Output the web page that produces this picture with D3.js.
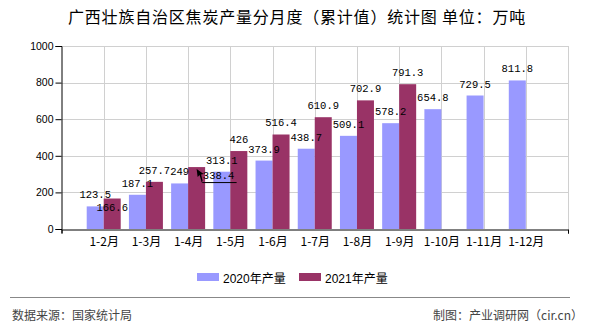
<!DOCTYPE html>
<html>
<head>
<meta charset="utf-8">
<script src="https://cdn.jsdelivr.net/npm/d3@7"></script>
<style>
  html, body { margin: 0; padding: 0; background: #fff; }
  svg { display: block; }
</style>
</head>
<body>
<svg id="chart" width="590" height="330"></svg>
<script>
// ---- data ----
const title = "广西壮族自治区焦炭产量分月度（累计值）统计图 单位：万吨";
const categories = ["1-2月","1-3月","1-4月","1-5月","1-6月","1-7月","1-8月","1-9月","1-10月","1-11月","1-12月"];
const seriesNames = ["2020年产量", "2021年产量"];
const values2020 = [123.5, 187.1, 249, 313.1, 373.9, 438.7, 509.1, 578.2, 654.8, 729.5, 811.8];
const values2021 = [166.6, 257.7, 338.4, 426, 516.4, 610.9, 702.9, 791.3];
const yTicks = [0, 200, 400, 600, 800, 1000];
const sourceText = "数据来源：国家统计局";
const creditText = "制图：产业调研网（cir.cn）";

// ---- style ----
const colors = ["#9999FF", "#993366"];
const plot = { left: 61.5, right: 568, top: 46, bottom: 229 };
const barW = 17;
// label displacements (label-collision layout of the original), keyed "series-index"
const labelShift = { "1-0": { dx: 0, dy: 20.5 }, "1-2": { dx: 22, dy: 20, leader: true } };

const svg = d3.select("#chart");

const x = d3.scalePoint()
  .domain(["_s", ...categories, "_e"])
  .range([plot.left, plot.right]);
const y = d3.scaleLinear().domain([0, 1000]).range([plot.bottom, plot.top]);

// title
svg.append("text")
  .attr("x", 297).attr("y", 23)
  .attr("text-anchor", "middle")
  .attr("font-family", "'Noto Sans CJK SC', sans-serif")
  .attr("font-size", 16).attr("letter-spacing", 0.8)
  .attr("fill", "#000")
  .text(title);

// gridlines
const grid = svg.append("g").attr("stroke", "#d0d0d0").attr("stroke-width", 1);
yTicks.filter(d => d > 0).forEach(t => {
  grid.append("line").attr("x1", plot.left).attr("x2", plot.right)
    .attr("y1", Math.round(y(t)) + 0.5).attr("y2", Math.round(y(t)) + 0.5);
});
[...categories, "_e"].forEach(c => {
  const xx = Math.round(x(c)) + 0.5;
  grid.append("line").attr("x1", xx).attr("x2", xx)
    .attr("y1", plot.top).attr("y2", plot.bottom);
});

// bars
const series = [values2020, values2021];
series.forEach((vals, si) => {
  svg.append("g").selectAll("rect").data(vals).enter().append("rect")
    .attr("x", (d, i) => si === 0 ? x(categories[i]) - barW : x(categories[i]))
    .attr("y", d => y(d))
    .attr("width", barW)
    .attr("height", d => y(0) - y(d))
    .attr("fill", colors[si]);
});

// axes
const yAxis = d3.axisLeft(y).tickValues(yTicks).tickSize(6).tickPadding(2).tickFormat(d3.format("d"));
const gy = svg.append("g").attr("transform", `translate(${plot.left},0)`).call(yAxis);
gy.select(".domain").attr("stroke", "#000");
gy.selectAll(".tick line").attr("stroke", "#000");
gy.selectAll(".tick text").attr("font-family", "'Liberation Sans', Arial, sans-serif")
  .attr("font-size", 10.5).attr("fill", "#000");

const xAxis = d3.axisBottom(x).tickValues(["_s", "_e"]).tickSize(4).tickFormat("");
const gx = svg.append("g").attr("transform", `translate(0,${plot.bottom + 0.5})`).call(xAxis);
gx.select(".domain").attr("stroke", "#000");
gx.selectAll(".tick line").attr("stroke", "#000");

// x tick labels
svg.append("g").selectAll("text").data(categories).enter().append("text")
  .attr("x", d => x(d) + 0.5)
  .attr("y", 246)
  .attr("text-anchor", "middle")
  .attr("font-family", "'Noto Sans CJK SC', sans-serif")
  .attr("font-size", 12)
  .attr("fill", "#000")
  .text(d => d);

// data labels
const labelFont = "'Liberation Mono', 'DejaVu Sans Mono', monospace";
series.forEach((vals, si) => {
  vals.forEach((v, i) => {
    const cx = si === 0 ? x(categories[i]) - barW / 2 : x(categories[i]) + barW / 2;
    const sh = labelShift[si + "-" + i] || { dx: 0, dy: 0 };
    const lx = cx + sh.dx, ly = y(v) - 12 + sh.dy;
    svg.append("text")
      .attr("x", lx).attr("y", ly + 4)
      .attr("text-anchor", "middle")
      .attr("font-family", labelFont)
      .attr("font-size", 10.5)
      .attr("fill", "#000")
      .text(String(v));
    if (sh.leader) {
      const tx = cx, ty = y(v) + 2;
      svg.append("path")
        .attr("d", `M${tx + 5},${ty + 13} L${lx - 16},${ly + 7.5} L${lx + 18},${ly + 7.5}`)
        .attr("fill", "none").attr("stroke", "#000").attr("stroke-width", 1);
      svg.append("path")
        .attr("d", `M${tx},${ty} L${tx + 1},${ty + 8} L${tx + 3},${ty + 6} L${tx + 5},${ty + 13} L${tx + 6},${ty + 12} L${tx + 4.5},${ty + 5.5} L${tx + 7},${ty + 5} Z`)
        .attr("fill", "#000");
    }
  });
});

// legend
const legend = svg.append("g");
const legendX = [197, 299];
seriesNames.forEach((n, i) => {
  legend.append("rect").attr("x", legendX[i]).attr("y", 273).attr("width", 22).attr("height", 8)
    .attr("fill", colors[i]);
  legend.append("text").attr("x", legendX[i] + 26).attr("y", 282.5)
    .attr("font-family", "'Liberation Sans', 'Noto Sans CJK SC', sans-serif")
    .attr("font-size", 12).attr("fill", "#000").text(n);
});

// separator
svg.append("line").attr("x1", 10).attr("x2", 570).attr("y1", 297.5).attr("y2", 297.5)
  .attr("stroke", "#888").attr("stroke-width", 1);

// footer
svg.append("text").attr("x", 12).attr("y", 320)
  .attr("font-family", "'Noto Sans CJK SC', sans-serif").attr("font-size", 12)
  .attr("fill", "#444").text(sourceText);
svg.append("text").attr("x", 583).attr("y", 320).attr("text-anchor", "end")
  .attr("font-family", "'Noto Sans CJK SC', sans-serif").attr("font-size", 12)
  .attr("fill", "#444").text(creditText);
</script>
</body>
</html>
